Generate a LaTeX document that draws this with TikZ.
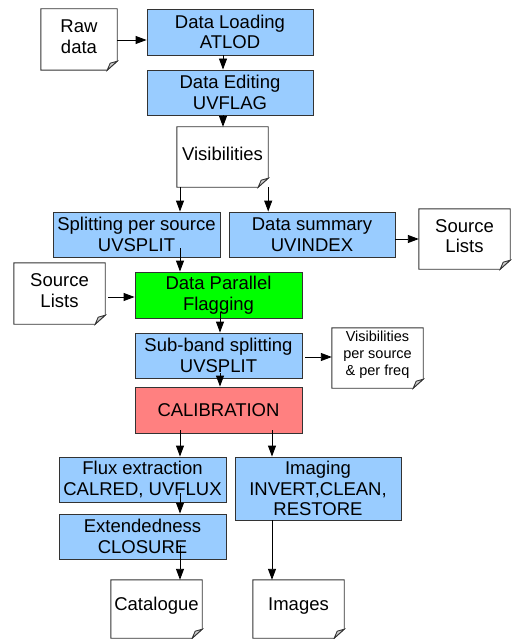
\documentclass[tikz,border=0pt]{standalone}
\usepackage{fontspec}
\setmainfont{Liberation Sans}
\usetikzlibrary{arrows.meta,calc}
\definecolor{boxblue}{HTML}{99CCFF}
\definecolor{boxgreen}{HTML}{00FF00}
\definecolor{boxred}{HTML}{FF8080}
\definecolor{edgegray}{HTML}{333333}
\definecolor{foldgray}{HTML}{D0D0D0}
% document frame: the node's text sits 3pt above the frame's centre
\newcommand{\docframe}[1]{%
  \draw[docline] (#1.north west) -- (#1.north east) -- ([yshift=3pt]#1.south east)
    -- ([xshift=-10pt,yshift=-6pt]#1.south east) -- ([yshift=-6pt]#1.south west) -- cycle;
  \draw[docline,fill=foldgray] ([xshift=-10pt,yshift=-6pt]#1.south east) -- ([yshift=3pt]#1.south east)
    -- ([xshift=-7pt,yshift=1pt]#1.south east) -- cycle;}
\begin{document}
\begin{tikzpicture}[x=1pt,y=-1pt,
  proc/.style={draw=edgegray, line width=0.9pt, minimum width=167pt, minimum height=45pt,
    inner sep=1pt, align=center, font=\fontsize{18.5}{20.5}\selectfont},
  docnode/.style={minimum width=91pt, minimum height=54pt, inner sep=1pt, align=center,
    font=\fontsize{18.5}{20.5}\selectfont},
  smalltext/.style={font=\fontsize{14.5}{17}\selectfont},
  docline/.style={draw=edgegray, line width=0.9pt},
  arr/.style={draw=black, line width=0.9pt, -{Triangle[length=11pt,width=8pt]}}
]
\useasboundingbox (0,0) rectangle (511,639);

\node[docnode, minimum width=76pt, minimum height=55pt] (raw) at (79,36.5) {Raw\\data};
\node[proc, fill=boxblue, minimum width=166pt, minimum height=46pt] (load) at (230,32) {Data Loading\\ATLOD};
\node[proc, fill=boxblue, minimum width=166pt] (edit) at (230,92.5) {Data Editing\\UVFLAG};
\node[docnode] (vis) at (222.5,154) {Visibilities};
\node[proc, fill=boxblue] (split) at (136.5,234.5) {Splitting per source\\UVSPLIT};
\node[proc, fill=boxblue, minimum width=166pt] (summ) at (312,234.5) {Data summary\\UVINDEX};
\node[docnode] (srcr) at (464.5,236) {Source\\Lists};
\node[docnode, minimum height=55pt] (srcl) at (59.5,290.5) {Source\\Lists};
\node[proc, fill=boxgreen, minimum height=46pt] (dpf) at (218.5,295) {Data Parallel\\Flagging};
\node[proc, fill=boxblue] (sub) at (218.5,355.5) {Sub-band splitting\\UVSPLIT};
\node[docnode, smalltext] (visps) at (377.5,355) {Visibilities\\per source\\\& per freq};
\node[proc, fill=boxred, minimum height=46pt] (calib) at (218.5,410) {CALIBRATION};
\node[proc, fill=boxblue] (flux) at (142.5,479.5) {Flux extraction\\CALRED, UVFLUX};
\node[proc, fill=boxblue, minimum width=166pt, minimum height=63pt] (img) at (318,488.5) {Imaging\\INVERT,CLEAN,\\RESTORE};
\node[proc, fill=boxblue] (ext) at (142.5,536.5) {Extendedness\\CLOSURE};
\node[docnode, minimum height=52pt] (cat) at (156.5,606) {Catalogue};
\node[docnode, minimum height=52pt] (imgs) at (298.5,606) {Images};

\foreach \n in {raw,vis,srcr,srcl,visps,cat,imgs} {\docframe{\n}}

\coordinate (xa) at (180,0);
\coordinate (xb) at (272,0);
\coordinate (xc) at (220,0);
\coordinate (xd) at (223,0);

\draw[arr] ($(raw.east)+(0,3.5)$) -- ($(raw.east -| load.west)+(0,3.5)$);
\draw[arr] (load.south -| xd) -- (edit.north -| xd);
\draw[arr] (edit.south -| xd) -- (vis.north -| xd);
\draw[arr] ($(vis.south -| xa)+(0,6)$) -- (split.north -| xa);
\draw[arr] ($(vis.south east)+(0,6)$) -- (vis.south east |- summ.north);
\draw[arr] ($(summ.east |- srcr.west)+(0,3)$) -- ($(srcr.west)+(0,3)$);
\draw[arr] ($(split.south -| xa)+(0,-9)$) -- (dpf.north -| xa);
\draw[arr] ($(srcl.east)+(3,6.5)$) -- ($(srcl.east -| dpf.west)+(0,6.5)$);
\draw[arr] ($(dpf.south -| xc)+(0,-6)$) -- (sub.north -| xc);
\draw[arr] ($(sub.east)+(3,1.5)$) -- ($(sub.east -| visps.west)+(0,1.5)$);
\draw[arr] ($(sub.south -| xc)+(0,-5)$) -- (calib.north -| xc);
\draw[arr] ($(calib.south -| xa)+(0,-3)$) -- (flux.north -| xa);
\draw[arr] ($(calib.south -| xb)+(0,-3)$) -- (img.north -| xb);
\draw[arr] ($(flux.south -| xa)+(0,-9)$) -- (ext.north -| xa);
\draw[arr] ($(ext.south -| xa)+(0,-14)$) -- (cat.north -| xa);
\draw[arr] (img.south -| xb) -- (imgs.north -| xb);
\end{tikzpicture}
\end{document}
